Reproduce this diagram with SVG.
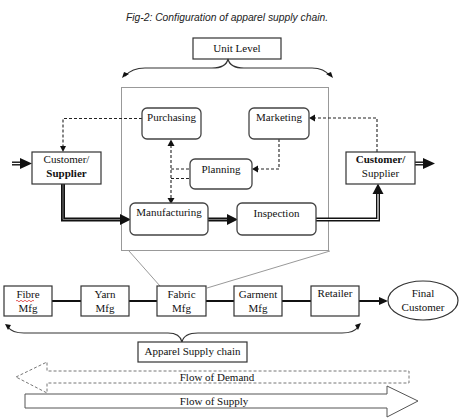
<svg xmlns="http://www.w3.org/2000/svg" width="459" height="420" viewBox="0 0 459 420">
<style>
.t{font-family:"Liberation Serif","Times New Roman",serif;font-size:11px;fill:#111;text-anchor:middle}
.b{font-weight:bold}
.box{fill:#fff;stroke:#333;stroke-width:1.2}
.rbox{fill:#fff;stroke:#444;stroke-width:1.3}
.dash{fill:none;stroke:#222;stroke-width:1.1;stroke-dasharray:3,2}
.solid{fill:none;stroke:#111;stroke-width:2}
.dblo{fill:none;stroke:#111;stroke-width:4}
.dbli{fill:none;stroke:#fff;stroke-width:1.2}
.dblg{fill:none;stroke:#777;stroke-width:1}
.brace{fill:none;stroke:#333;stroke-width:1.2}
.ah{fill:#111}
</style>
<rect width="459" height="420" fill="#fff"/>
<text x="227" y="21" style="font-family:'Liberation Sans',Arial,sans-serif;font-size:10.3px;font-style:italic;fill:#222" text-anchor="middle">Fig-2: Configuration of apparel supply chain.</text>

<g id="unit-level"><rect class="box" x="193" y="38" width="88" height="21"/><text class="t" x="237" y="52">Unit Level</text></g>
<g id="unit-brace">
<path class="brace" d="M125,76 Q132,68 145,68 L212,68 Q226,68 228,59 Q230,68 244,68 L312,68 Q324,68 330,76"/>
<polygon class="ah" points="122,78 124,72 129,74"/>
<polygon class="ah" points="333,78 331,72 326,74"/>
</g>

<g id="unit-frame">
<rect x="121.5" y="87.5" width="207" height="163" fill="#fff" stroke="#999" stroke-width="1"/>
<path d="M129,251 L160,286 M330,251 L207,288" stroke="#999" stroke-width="1" fill="none"/>
</g>

<g id="connectors">
<!-- input double arrow -->
<path class="dblo" d="M12,163.5 H22"/><path class="dbli" d="M12,163.5 H22"/>
<polygon class="ah" points="20,158 32,163.5 20,169"/>
<!-- customer left to manufacturing -->
<path class="dblo" d="M63,184 V219.5 H122"/><path class="dblg" d="M63,184 V219.5 H122"/>
<polygon class="ah" points="120,214 131,219.5 120,225"/>
<!-- manufacturing to inspection -->
<path class="dblo" d="M208,219.5 H229"/><path class="dblg" d="M208,219.5 H229"/>
<polygon class="ah" points="227,214 238,219.5 227,225"/>
<!-- inspection to customer right -->
<path class="dblo" d="M316,219.5 H378 V192"/><path class="dbli" d="M316,219.5 H378 V192"/>
<polygon class="ah" points="372.5,194 378,183.5 383.5,194"/>
<!-- output double arrow -->
<path class="dblo" d="M415,163.5 H426"/><path class="dbli" d="M415,163.5 H426"/>
<polygon class="ah" points="423,158 435,163.5 423,169"/>
<!-- dashed -->
<path class="dash" d="M142,118.5 H63 V147"/>
<polygon class="ah" points="60,146 63,152 66,146"/>
<path class="dash" d="M377,152 V118 H314"/>
<polygon class="ah" points="315,114.5 309,118 315,121.5"/>
<path class="dash" d="M279,139 V169 H257"/>
<polygon class="ah" points="258,165.5 252,169 258,172.5"/>
<path class="dash" d="M171,145 V199"/>
<polygon class="ah" points="167.5,146 171,139.5 174.5,146"/>
<polygon class="ah" points="167.5,198 171,204 174.5,198"/>
<path class="dash" d="M171,169 H190 M171,178.5 H190"/>
<!-- bottom chain -->
<path class="solid" d="M52,301 H81 M129,301 H157 M206,301 H234 M282,301 H311 M359,301 H380"/>
<polygon class="ah" points="379,297 388,301 379,305"/>
</g>

<g id="customer-left"><rect class="box" x="32" y="152" width="69" height="32"/><text class="t" x="66.5" y="163">Customer/</text><text class="t b" x="66.5" y="177">Supplier</text></g>
<g id="customer-right"><rect class="box" x="346" y="152" width="69" height="32"/><text class="t b" x="380.5" y="163">Customer/</text><text class="t" x="380.5" y="177">Supplier</text></g>
<g id="purchasing"><rect class="rbox" x="142" y="108" width="59" height="31" rx="5"/><text class="t" x="171.5" y="121">Purchasing</text></g>
<g id="marketing"><rect class="rbox" x="249" y="108" width="60" height="31" rx="5"/><text class="t" x="279" y="121">Marketing</text></g>
<g id="planning"><rect class="rbox" x="190" y="159" width="62" height="30" rx="5"/><text class="t" x="221" y="173">Planning</text></g>
<g id="manufacturing"><rect class="rbox" x="130" y="203" width="78" height="32" rx="5"/><text class="t" x="169" y="216">Manufacturing</text></g>
<g id="inspection"><rect class="rbox" x="237" y="203" width="79" height="32" rx="5"/><text class="t" x="276.5" y="217">Inspection</text></g>

<g id="fibre"><rect class="box" x="4" y="286" width="48" height="30"/><text class="t" x="28" y="298">Fibre</text><text class="t" x="28" y="312">Mfg</text>
<path d="M16,301 q1,-1.5 2,0 t2,0 t2,0 t2,0 t2,0 t2,0 t2,0 t2,0 t2,0" fill="none" stroke="#d33" stroke-width="0.8"/></g>
<g id="yarn"><rect class="box" x="81" y="286" width="48" height="30"/><text class="t" x="105" y="298">Yarn</text><text class="t" x="105" y="312">Mfg</text></g>
<g id="fabric"><rect class="box" x="157" y="286" width="49" height="30"/><text class="t" x="181.5" y="298">Fabric</text><text class="t" x="181.5" y="312">Mfg</text></g>
<g id="garment"><rect class="box" x="234" y="286" width="48" height="30"/><text class="t" x="258" y="298">Garment</text><text class="t" x="258" y="312">Mfg</text></g>
<g id="retailer"><rect class="box" x="311" y="286" width="48" height="30"/><text class="t" x="335" y="297">Retailer</text></g>
<g id="final-customer"><ellipse cx="423" cy="300.5" rx="35" ry="19.5" fill="#fff" stroke="#333" stroke-width="1.2"/><text class="t" x="423" y="297">Final</text><text class="t" x="423" y="311">Customer</text></g>

<g id="chain-brace">
<path class="brace" d="M8,327 Q12,333 24,333 L168,333 Q180,333 182,342 Q184,333 198,333 L342,333 Q354,333 358,327"/>
<polygon class="ah" points="5,324 11,325 8,330"/>
<polygon class="ah" points="361,323 355,325 358,330"/>
</g>
<g id="apparel-supply-chain"><rect class="box" x="138" y="342" width="109" height="20"/><text class="t" x="192.5" y="355">Apparel Supply chain</text></g>

<g id="flow-demand"><polygon points="16,377 47,362 47,371 409,371 409,383 47,383 47,393" fill="#fff" stroke="#777" stroke-width="1" stroke-dasharray="3,2"/><text class="t" x="217" y="381">Flow of Demand</text></g>
<g id="flow-supply"><polygon points="25,394 387,394 387,386 418,401 387,417 387,408 25,408" fill="#fff" stroke="#555" stroke-width="1"/><text class="t" x="214" y="405">Flow of Supply</text></g>
</svg>
